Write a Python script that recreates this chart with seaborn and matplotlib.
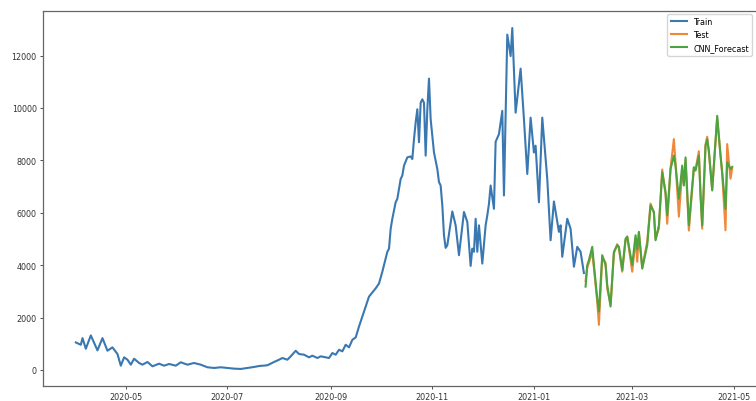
import pandas as pd
import matplotlib
matplotlib.use("Agg")
import matplotlib.pyplot as plt
import matplotlib.dates as mdates
import seaborn as sns

# values (turning points of each curve)
train_dates = [
    "2020-04-01", "2020-04-04", "2020-04-05", "2020-04-07", "2020-04-10", "2020-04-14",
    "2020-04-17", "2020-04-20", "2020-04-23", "2020-04-26", "2020-04-28", "2020-04-30",
    "2020-05-02", "2020-05-04", "2020-05-06", "2020-05-09", "2020-05-11", "2020-05-14",
    "2020-05-17", "2020-05-21", "2020-05-24", "2020-05-27", "2020-05-31", "2020-06-03",
    "2020-06-07", "2020-06-11", "2020-06-15", "2020-06-19", "2020-06-23", "2020-06-27",
    "2020-07-01", "2020-07-05", "2020-07-09", "2020-07-13", "2020-07-17", "2020-07-20",
    "2020-07-25", "2020-07-29", "2020-08-01", "2020-08-03", "2020-08-06", "2020-08-08",
    "2020-08-11", "2020-08-13", "2020-08-16", "2020-08-19", "2020-08-21", "2020-08-24",
    "2020-08-26", "2020-08-31", "2020-09-02", "2020-09-04", "2020-09-06", "2020-09-08",
    "2020-09-10", "2020-09-12", "2020-09-14", "2020-09-16", "2020-09-18", "2020-09-19",
    "2020-09-21", "2020-09-24", "2020-09-28", "2020-09-30", "2020-10-02", "2020-10-03",
    "2020-10-05", "2020-10-06", "2020-10-07", "2020-10-08", "2020-10-10", "2020-10-11",
    "2020-10-13", "2020-10-14", "2020-10-15", "2020-10-17", "2020-10-19", "2020-10-20",
    "2020-10-21", "2020-10-22", "2020-10-23", "2020-10-24", "2020-10-25", "2020-10-26",
    "2020-10-27", "2020-10-28", "2020-10-29", "2020-10-30", "2020-10-31", "2020-11-02",
    "2020-11-04", "2020-11-05", "2020-11-06", "2020-11-07", "2020-11-08", "2020-11-09",
    "2020-11-10", "2020-11-13", "2020-11-15", "2020-11-17", "2020-11-20", "2020-11-22",
    "2020-11-24", "2020-11-25", "2020-11-26", "2020-11-27", "2020-11-28", "2020-11-29",
    "2020-12-01", "2020-12-03", "2020-12-04", "2020-12-05", "2020-12-06", "2020-12-08",
    "2020-12-09", "2020-12-11", "2020-12-13", "2020-12-14", "2020-12-16", "2020-12-18",
    "2020-12-19", "2020-12-21", "2020-12-24", "2020-12-26", "2020-12-28", "2020-12-30",
    "2021-01-01", "2021-01-02", "2021-01-04", "2021-01-06", "2021-01-09", "2021-01-11",
    "2021-01-13", "2021-01-16", "2021-01-17", "2021-01-18", "2021-01-21", "2021-01-23",
    "2021-01-25", "2021-01-27", "2021-01-29", "2021-01-31",
]
train_values = [
    1050, 960, 1215, 810, 1318, 748,
    1215, 733, 862, 608, 163, 482,
    391, 201, 429, 266, 201, 304,
    140, 239, 163, 228, 163, 292,
    201, 266, 201, 102, 76, 102,
    76, 50, 38, 76, 114, 150,
    178, 304, 391, 456, 391, 520,
    733, 608, 582, 482, 545, 456,
    520, 456, 646, 582, 771, 710,
    962, 862, 1151, 1242, 1660, 1850,
    2230, 2800, 3115, 3300, 3750, 4000,
    4510, 4630, 5390, 5770, 6405, 6530,
    7290, 7420, 7800, 8115, 8150, 8050,
    8810, 9445, 9950, 8690, 10200, 10330,
    10200, 8180, 9950, 11120, 9570, 8300,
    7670, 7170, 7040, 6280, 5140, 4660,
    4760, 6050, 5520, 4380, 6030, 5650,
    3970, 4630, 4510, 5770, 4510, 5520,
    4060, 5520, 5900, 6340, 7040, 6150,
    8710, 9000, 9890, 6660, 12800, 11980,
    13050, 9820, 11500, 9570, 7480, 9630,
    8300, 8560, 6400, 9630, 7290, 4950,
    6430, 5270, 5520, 4320, 5770, 5390,
    3940, 4700, 4510, 3700,
]

test_dates = [
    "2021-02-01", "2021-02-02", "2021-02-03", "2021-02-05", "2021-02-06", "2021-02-08",
    "2021-02-09", "2021-02-11", "2021-02-13", "2021-02-14", "2021-02-16", "2021-02-18",
    "2021-02-20", "2021-02-21", "2021-02-23", "2021-02-25", "2021-02-26", "2021-03-01",
    "2021-03-03", "2021-03-04", "2021-03-05", "2021-03-07", "2021-03-10", "2021-03-12",
    "2021-03-14", "2021-03-15", "2021-03-17", "2021-03-19", "2021-03-21", "2021-03-22",
    "2021-03-24", "2021-03-26", "2021-03-27", "2021-03-29", "2021-03-31", "2021-04-01",
    "2021-04-02", "2021-04-04", "2021-04-07", "2021-04-08", "2021-04-10", "2021-04-11",
    "2021-04-12", "2021-04-14", "2021-04-15", "2021-04-16", "2021-04-18", "2021-04-21",
    "2021-04-23", "2021-04-24", "2021-04-26", "2021-04-27", "2021-04-29", "2021-04-30",
]
test_values = [
    3400, 3900, 4100, 4500, 3900, 2600,
    1720, 4300, 4100, 3100, 2500, 4450,
    4800, 4650, 3750, 4950, 5100, 3750,
    5000, 4130, 5250, 3900, 4900, 6350,
    6000, 5000, 5400, 7650, 6700, 5580,
    7700, 8810, 7900, 5850, 7600, 7100,
    8000, 5320, 7700, 7650, 8350, 6700,
    5390, 8600, 8900, 8300, 6900, 9600,
    8200, 7500, 5330, 8620, 7300, 7700,
]
cnn_values = [
    3180, 4000, 4190, 4700, 4000, 2730,
    2230, 4380, 4000, 3240, 2420, 4510,
    4760, 4700, 3810, 5010, 5080, 4000,
    5140, 4600, 5270, 3870, 4760, 6280,
    6030, 4950, 5520, 7540, 6790, 5900,
    7670, 8180, 7800, 6530, 7800, 7040,
    8115, 5520, 7740, 7610, 8180, 6660,
    5520, 8560, 8810, 8370, 6850, 9700,
    8180, 7540, 6150, 7920, 7670, 7750,
]

train = pd.DataFrame({"date": pd.to_datetime(train_dates), "value": train_values})
test = pd.DataFrame({"date": pd.to_datetime(test_dates), "value": test_values})
cnn = pd.DataFrame({"date": pd.to_datetime(test_dates), "value": cnn_values})

plt.rcParams["font.family"] = ["DejaVu Sans"]
plt.rcParams["lines.solid_joinstyle"] = "round"
fig = plt.figure(figsize=(7.56, 4.02), dpi=100)
# the reference is cropped on the right, so the axes run past the figure edge
ax = fig.add_axes([43 / 756, 15 / 402, 722 / 756, 375 / 402])

sns.lineplot(data=train, x="date", y="value", color="#3a78b2", linewidth=1.5, label="Train", ax=ax)
sns.lineplot(data=test, x="date", y="value", color="#f0883a", linewidth=1.5, label="Test", ax=ax)
sns.lineplot(data=cnn, x="date", y="value", color="#4ca340", linewidth=1.5, label="CNN_Forecast", ax=ax)

ax.xaxis.set_major_locator(mdates.MonthLocator(bymonth=range(1, 13, 2)))
ax.xaxis.set_major_formatter(mdates.DateFormatter("%Y-%m"))
ax.set_xlabel("")
ax.set_ylabel("")
ax.tick_params(labelsize=5.8, length=2.5, width=0.6, pad=2, colors="#333333")
for s in ax.spines.values():
    s.set_linewidth(0.9)
    s.set_color("#666666")

ax.legend(loc="upper right", bbox_to_anchor=(0.982, 0.992), borderaxespad=0,
          fontsize=5.8, frameon=True)

fig.savefig("out.png", dpi=100)
